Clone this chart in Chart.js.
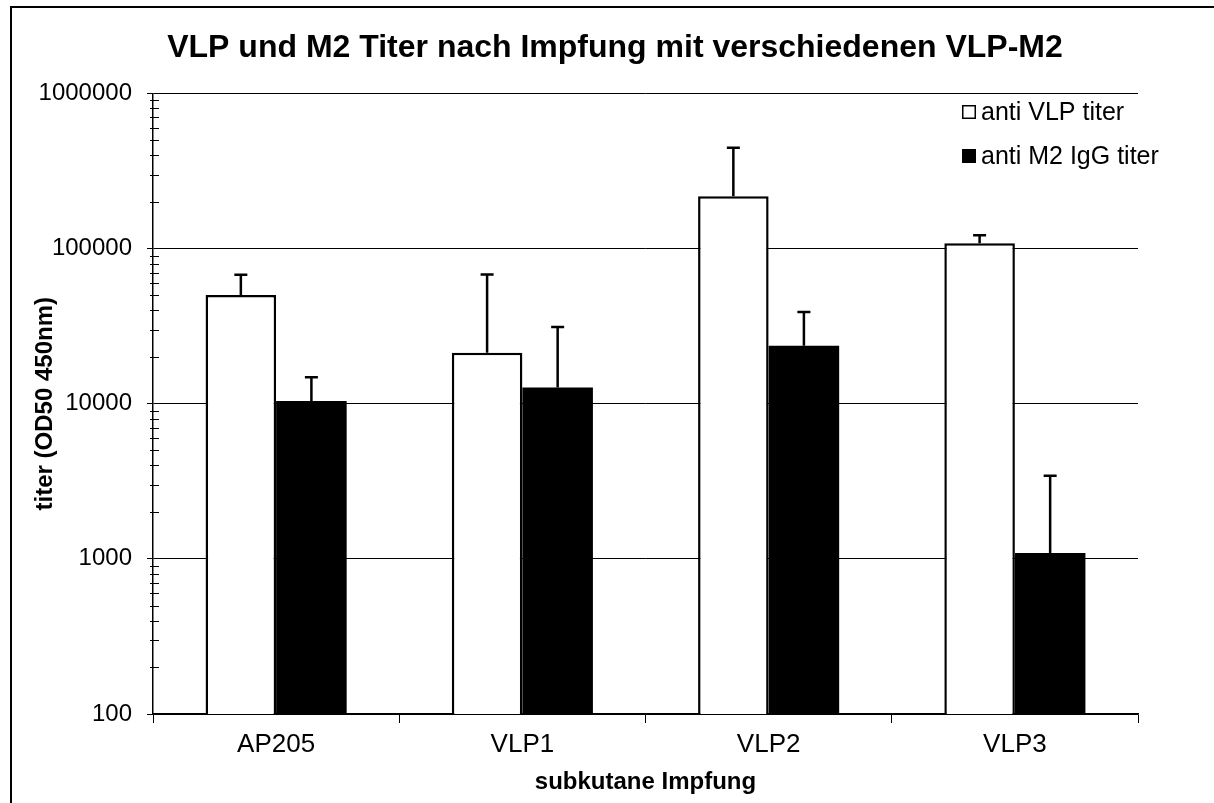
<!DOCTYPE html>
<html>
<head>
<meta charset="utf-8">
<script src="https://cdn.jsdelivr.net/npm/chart.js@4"></script>
<style>
  html, body { margin: 0; padding: 0; background: #fff; }
  canvas { display: block; }
</style>
</head>
<body>
<canvas id="titerChart" width="1214" height="803"></canvas>
<script>
// data
const categories = ['AP205', 'VLP1', 'VLP2', 'VLP3'];
const vlpTiter = [50200, 21300, 217000, 108000];
const vlpSD = [17700, 46700, 229000, 14000];
const m2Titer = [10400, 12700, 23600, 1090];
const m2SD = [4400, 18500, 15400, 2340];
const yMajorTicks = [100, 1000, 10000, 100000, 1000000];
const yMinorSteps = [2, 3, 4, 5, 6, 7, 8, 9];

const FONT = '"Liberation Sans", Arial, sans-serif';

// all log ticks: majors plus 2..9 within each decade
const yAllTicks = [];
yMajorTicks.forEach((m, i) => {
  yAllTicks.push({ value: m, major: true });
  if (i < yMajorTicks.length - 1) {
    yMinorSteps.forEach(s => yAllTicks.push({ value: m * s, major: false }));
  }
});

// outer frame of the picture
const framePlugin = {
  id: 'frame',
  beforeDraw(chart) {
    const ctx = chart.ctx;
    ctx.save();
    ctx.fillStyle = '#fff';
    ctx.fillRect(0, 0, chart.width, chart.height);
    ctx.strokeStyle = '#000';
    ctx.lineWidth = 2;
    ctx.strokeRect(11, 7, chart.width + 20, chart.height + 20);
    ctx.restore();
  }
};

// minor ticks crossing the y axis
const minorTickPlugin = {
  id: 'minorTicks',
  afterDraw(chart) {
    const y = chart.scales.y;
    const ctx = chart.ctx;
    ctx.save();
    ctx.strokeStyle = '#000';
    ctx.lineWidth = 1;
    y.ticks.forEach(t => {
      if (t.major) return;
      const py = Math.round(y.getPixelForValue(t.value)) + 0.5;
      ctx.beginPath();
      ctx.moveTo(y.right - 3, py);
      ctx.lineTo(y.right + 6, py);
      ctx.stroke();
    });
    ctx.restore();
  }
};

// upper error bars only
const errorBarPlugin = {
  id: 'errorBars',
  afterDatasetsDraw(chart) {
    const ctx = chart.ctx;
    const y = chart.scales.y;
    const sds = [vlpSD, m2SD];
    ctx.save();
    ctx.strokeStyle = '#000';
    ctx.lineWidth = 2.5;
    chart.data.datasets.forEach((ds, di) => {
      const meta = chart.getDatasetMeta(di);
      meta.data.forEach((bar, i) => {
        const top = y.getPixelForValue(ds.data[i] + sds[di][i]);
        ctx.beginPath();
        ctx.moveTo(bar.x, bar.y);
        ctx.lineTo(bar.x, top);
        ctx.moveTo(bar.x - 6.5, top);
        ctx.lineTo(bar.x + 6.5, top);
        ctx.stroke();
      });
    });
    ctx.restore();
  }
};

// legend drawn inside the plot, top right
const innerLegendPlugin = {
  id: 'innerLegend',
  afterDraw(chart) {
    const ctx = chart.ctx;
    ctx.save();
    ctx.font = '25px ' + FONT;
    ctx.textBaseline = 'alphabetic';
    chart.data.datasets.forEach((ds, i) => {
      const cy = 112 + i * 44;
      ctx.fillStyle = ds.backgroundColor;
      ctx.fillRect(962, cy - 7, 14, 14);
      ctx.strokeStyle = '#000';
      ctx.lineWidth = 1.5;
      ctx.strokeRect(962.75, cy - 6.25, 12.5, 12.5);
      ctx.fillStyle = '#000';
      ctx.fillText(ds.label, 981, cy + 8);
    });
    ctx.restore();
  }
};

new Chart(document.getElementById('titerChart'), {
  type: 'bar',
  data: {
    labels: categories,
    datasets: [
      {
        label: 'anti VLP titer',
        data: vlpTiter,
        backgroundColor: '#ffffff',
        borderColor: '#000000',
        borderWidth: 2.5
      },
      {
        label: 'anti M2 IgG titer',
        data: m2Titer,
        backgroundColor: '#000000',
        borderColor: '#000000',
        borderWidth: 0
      }
    ]
  },
  options: {
    responsive: false,
    animation: false,
    devicePixelRatio: 1,
    layout: { padding: { left: 16, right: 0, top: 0, bottom: 0 } },
    datasets: {
      bar: { barPercentage: 1.0, categoryPercentage: 0.573 }
    },
    plugins: {
      legend: { display: false },
      tooltip: { enabled: false },
      title: {
        display: true,
        text: 'VLP und M2 Titer nach Impfung mit verschiedenen VLP-M2',
        color: '#000',
        font: { family: FONT, size: 32, weight: 'bold' },
        padding: { top: 29, bottom: 26 }
      }
    },
    scales: {
      x: {
        grid: {
          drawOnChartArea: false,
          drawTicks: true,
          tickLength: 9,
          tickColor: '#000',
          offset: true
        },
        border: { color: '#000', width: 1.5 },
        ticks: {
          color: '#000',
          padding: 6,
          font: { family: FONT, size: 26 }
        },
        title: {
          display: true,
          text: 'subkutane Impfung',
          color: '#000',
          font: { family: FONT, size: 24, weight: 'bold' },
          padding: { top: 0, bottom: 6 }
        },
        afterFit(scale) { scale.height = 89; }
      },
      y: {
        type: 'logarithmic',
        min: 100,
        max: 1000000,
        afterBuildTicks(scale) {
          scale.ticks = yAllTicks.map(t => ({ value: t.value, major: t.major }));
        },
        grid: {
          color: ctx => (ctx.tick && ctx.tick.major ? '#000' : 'rgba(0,0,0,0)'),
          tickColor: ctx => (ctx.tick && ctx.tick.major ? '#000' : 'rgba(0,0,0,0)'),
          tickLength: 6,
          lineWidth: 1
        },
        border: { color: '#000', width: 1.5 },
        ticks: {
          autoSkip: false,
          color: '#000',
          padding: 15,
          font: { family: FONT, size: 24 },
          callback: value => (yMajorTicks.includes(value) ? String(value) : '')
        },
        title: {
          display: true,
          text: 'titer (OD50 450nm)',
          color: '#000',
          font: { family: FONT, size: 24, weight: 'bold' },
          padding: { top: 15, bottom: 0 }
        },
        afterFit(scale) { scale.width = 137; }
      },
      yRight: {
        type: 'linear',
        position: 'right',
        display: true,
        grid: { display: false },
        border: { display: false },
        ticks: { display: false },
        afterFit(scale) { scale.width = 76; }
      }
    }
  },
  plugins: [framePlugin, minorTickPlugin, errorBarPlugin, innerLegendPlugin]
});
</script>
</body>
</html>
